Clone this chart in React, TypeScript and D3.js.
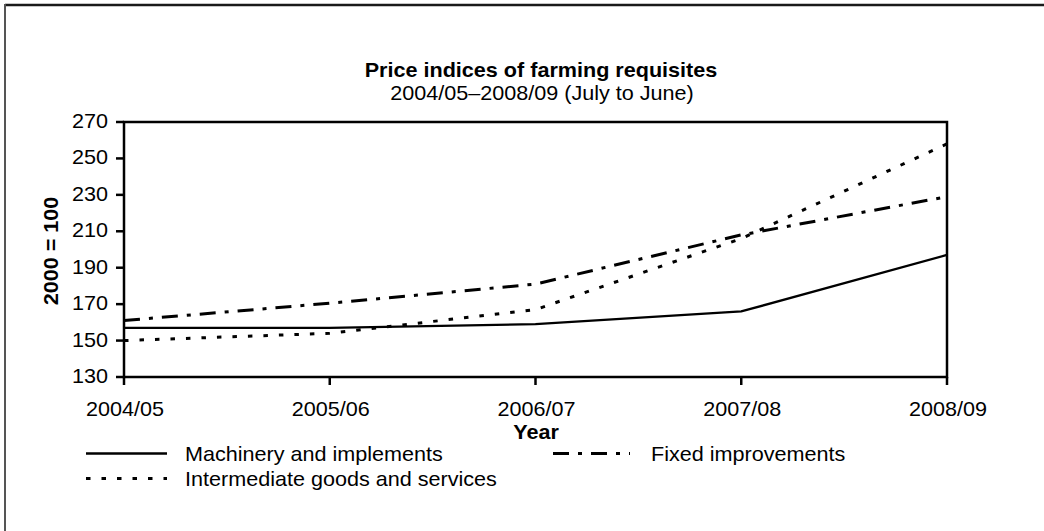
import React from "react";
import * as d3 from "d3";

const years = ["2004/05", "2005/06", "2006/07", "2007/08", "2008/09"];
const machinery = [157, 157, 159, 166, 197];
const fixedImprovements = [161, 170.5, 181, 208, 229];
const intermediate = [150, 154, 167, 206, 258];
const yTicks = [130, 150, 170, 190, 210, 230, 250, 270];

const seriesNames = [
  "Machinery and implements",
  "Fixed improvements",
  "Intermediate goods and services",
];

const W = 1044;
const H = 531;
const left = 124;
const right = 947;
const top = 122;
const bottom = 377;
const FONT = "'Liberation Sans', Arial, Helvetica, sans-serif";
const SX = 1.08;

const T = ({ x, y, anchor = "start", bold = false, size = 20, children, rotate = 0 }: any) => (
  <text
    transform={`translate(${x},${y}) rotate(${rotate}) scale(${SX},1)`}
    textAnchor={anchor}
    fontFamily={FONT}
    fontSize={size}
    fontWeight={bold ? "bold" : "normal"}
    fill="#000"
  >
    {children}
  </text>
);

export default function App() {
  const x = d3.scalePoint<string>().domain(years).range([left, right]);
  const y = d3.scaleLinear().domain([130, 270]).range([bottom, top]);
  const line = d3
    .line<number>()
    .x((_, i) => x(years[i]) as number)
    .y((d) => y(d));

  const styles = [
    { data: machinery, dash: "none", w: 2.3 },
    { data: fixedImprovements, dash: "16,9,4,9", w: 3 },
    { data: intermediate, dash: "4.5,11", w: 3 },
  ];

  return (
    <svg
      width={W}
      height={H}
      style={{ position: "fixed", left: 0, top: 0, background: "#fff" }}
    >
      <rect x={0} y={0} width={W} height={H} fill="#fff" />
      {/* outer frame */}
      <line x1={5} y1={5} x2={W} y2={5} stroke="#1a1a1a" strokeWidth={2.5} />
      <line x1={5} y1={4} x2={5} y2={H} stroke="#555" strokeWidth={2} />

      <T x={541} y={77} anchor="middle" bold>
        Price indices of farming requisites
      </T>
      <T x={542} y={100} anchor="middle">
        2004/05–2008/09 (July to June)
      </T>

      {/* series */}
      {styles.map((s, i) => (
        <path
          key={i}
          d={line(s.data) as string}
          fill="none"
          stroke="#000"
          strokeWidth={s.w}
          strokeDasharray={s.dash}
        />
      ))}

      {/* plot frame */}
      <rect
        x={left}
        y={top}
        width={right - left}
        height={bottom - top}
        fill="none"
        stroke="#000"
        strokeWidth={2.5}
      />

      {/* y ticks */}
      {yTicks.map((t) => (
        <g key={t}>
          <line x1={left - 8} x2={left} y1={y(t)} y2={y(t)} stroke="#000" strokeWidth={2.5} />
          <T x={108} y={y(t) + 6} anchor="end">
            {t}
          </T>
        </g>
      ))}

      {/* x ticks */}
      {years.map((yr) => (
        <g key={yr}>
          <line
            x1={x(yr) as number}
            x2={x(yr) as number}
            y1={bottom}
            y2={bottom + 8}
            stroke="#000"
            strokeWidth={2.5}
          />
          <T x={(x(yr) as number) + 1} y={416} anchor="middle">
            {yr}
          </T>
        </g>
      ))}

      <T x={536} y={439} anchor="middle" bold>
        Year
      </T>
      <T x={58} y={251} anchor="middle" bold rotate={-90}>
        2000 = 100
      </T>

      {/* legend */}
      <line x1={86} x2={167} y1={453.5} y2={453.5} stroke="#000" strokeWidth={2.3} />
      <T x={185} y={460.5}>{seriesNames[0]}</T>
      <line
        x1={553}
        x2={630}
        y1={453.5}
        y2={453.5}
        stroke="#000"
        strokeWidth={3}
        strokeDasharray="16,9,4,9"
      />
      <T x={651} y={460.5}>{seriesNames[1]}</T>
      <line
        x1={86}
        x2={167}
        y1={478.5}
        y2={478.5}
        stroke="#000"
        strokeWidth={3}
        strokeDasharray="4.5,11"
      />
      <T x={185} y={485.5}>{seriesNames[2]}</T>
    </svg>
  );
}
